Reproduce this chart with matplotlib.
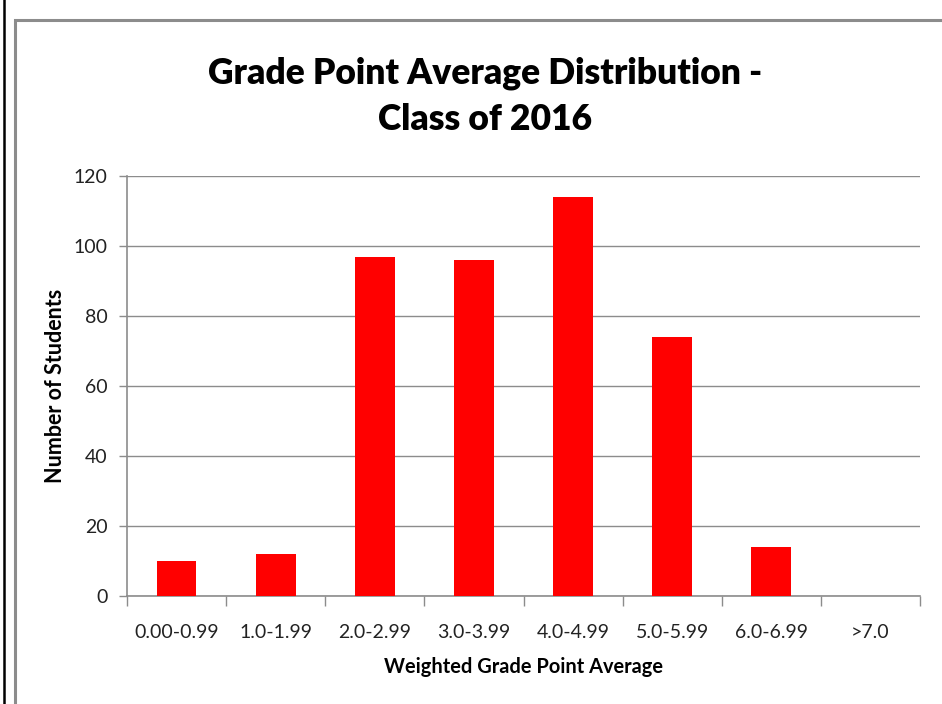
import matplotlib.pyplot as plt
from matplotlib.lines import Line2D

categories = ['0.00-0.99', '1.0-1.99', '2.0-2.99', '3.0-3.99',
              '4.0-4.99', '5.0-5.99', '6.0-6.99', '>7.0']
students = [10, 12, 97, 96, 114, 74, 14, 0]

plt.rcParams['font.family'] = ['Lato', 'DejaVu Sans']

W, H = 942, 704
fig = plt.figure(figsize=(W / 100, H / 100), dpi=100)

# outer page line and chart frame (frame runs off the right and bottom)
fig.add_artist(Line2D([4 / W, 4 / W], [0, 1], color='black', lw=1.8))
fig.add_artist(Line2D([15 / W, 15 / W, 1.0], [0, 1 - 20 / H, 1 - 20 / H],
                      color='#8c8c8c', lw=2.2, solid_joinstyle='miter'))

ax = fig.add_axes([127 / W, 1 - 596 / H, (920 - 127) / W, (596 - 176) / H])
x = range(len(categories))
ax.bar(x, students, width=0.4, color='#ff0000', zorder=3)

ax.set_xlim(-0.5, len(categories) - 0.5)
ax.set_ylim(0, 120)
ax.set_yticks(range(0, 121, 20))
ax.yaxis.grid(True, color='#8c8c8c', lw=1.0)
ax.set_axisbelow(True)

# ticks between categories, labels centred under bars
ax.set_xticks([i - 0.5 for i in range(len(categories) + 1)])
ax.set_xticklabels([])
ax.set_xticks(list(x), minor=True)
ax.set_xticklabels(categories, minor=True, fontsize=14, color='#222222')
ax.tick_params(axis='x', which='minor', length=0, pad=20)
ax.tick_params(axis='x', which='major', length=7, color='#8c8c8c', width=1)
ax.tick_params(axis='y', length=6, color='#8c8c8c', width=1, labelsize=14,
               pad=8, labelcolor='#222222')

for s in ['top', 'right']:
    ax.spines[s].set_visible(False)
for s in ['left', 'bottom']:
    ax.spines[s].set_color('#8c8c8c')
    ax.spines[s].set_linewidth(1.2)

ax.set_xlabel('Weighted Grade Point Average', fontsize=14.4, fontweight='bold', labelpad=12)
ax.set_ylabel('Number of Students', fontsize=15.5, fontweight='bold')
ax.yaxis.set_label_coords(-0.077, 0.5)

fig.text(485 / W, 1 - 96 / H, 'Grade Point Average Distribution -\nClass of 2016',
         ha='center', va='center', fontsize=25.5, fontweight='heavy', linespacing=1.47)

fig.savefig('out.png', dpi=100)
